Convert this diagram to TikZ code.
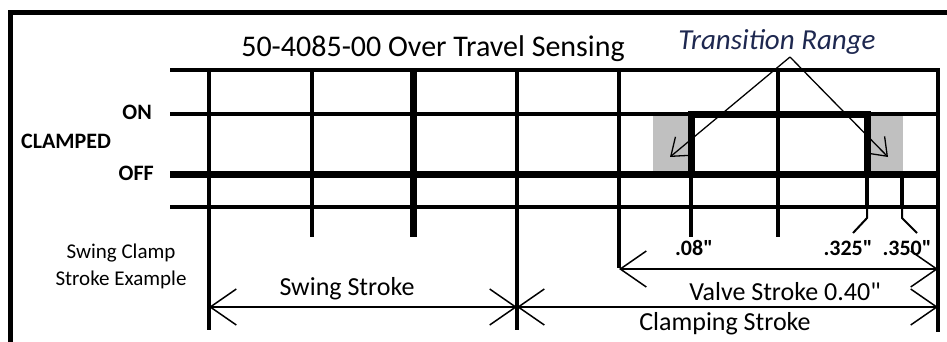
\documentclass[tikz,border=0pt]{standalone}
\usepackage{fontspec}
\setmainfont{Carlito}
\usetikzlibrary{arrows.meta}
\definecolor{navy}{RGB}{30,40,80}
\definecolor{rangegray}{RGB}{192,192,192}
\tikzset{grid/.style={line width=4.5pt},
 heavy/.style={line width=7pt,line join=miter},
 frame/.style={line width=5pt},
 lead/.style={line width=2pt},
 dim/.style={line width=1.5pt,{Straight Barb[length=26pt,width=36pt]}-{Straight Barb[length=26pt,width=36pt]}},
 pointer/.style={line width=1.3pt,-{Straight Barb[length=16pt,width=24pt]}},
 lbl/.style={font=\fontsize{26}{30}\selectfont,anchor=base,inner sep=0pt},
 tick/.style={font=\bfseries\fontsize{22}{26}\selectfont,anchor=base,inner sep=0pt},
 side/.style={font=\fontsize{21}{26}\selectfont,anchor=base,inner sep=0pt},
 }

\begin{document}
\begin{tikzpicture}[x=1pt,y=-1pt]
        \useasboundingbox (0,0) rectangle (947,341);
        \fill[rangegray] (653,116) rectangle (691,172);
        \fill[rangegray] (867,116) rectangle (903,172);
        \draw[frame] (10,350) -- (10,12) -- (955,12);
        \draw[grid] (170,70) -- (940,70);
        \draw[grid] (170,114) -- (940,114);
        \draw[heavy] (170,174) -- (940,174);
        \draw[grid] (170,207) -- (940,207);
        \draw[grid] (209,70) -- (209,330);
        \draw[grid] (312,70) -- (312,237);
        \draw[heavy] (413,70) -- (413,237);
        \draw[grid] (517,70) -- (517,330);
        \draw[grid] (619,70) -- (619,268);
        \draw[grid] (778,70) -- (778,237);
        \draw[grid] (938,68) -- (938,332);
        \draw[grid] (691,174) -- (691,237);
        \draw[grid] (867,174) -- (867,207);
        \draw[grid] (902,174) -- (902,207);
        \draw[heavy] (691,174) -- (691,114) -- (867,114) -- (867,174);
        \draw[lead] (867,205) -- (867,218) -- (853,233);
        \draw[lead] (902,205) -- (902,218) -- (917,233);
        \coordinate (apex) at (790,57);
        \coordinate (tranL) at (670,157);
        \coordinate (tranR) at (888,157);
        \draw[pointer] (apex) -- (tranL);
        \draw[pointer] (apex) -- (tranR);
        \coordinate (swingL) at (209,307);
        \coordinate (swingR) at (517,307);
        \coordinate (clampR) at (938,307);
        \coordinate (valveL) at (619,269);
        \coordinate (valveR) at (938,269);
        \draw[dim] (swingL) -- (swingR);
        \draw[dim] (swingR) -- (clampR);
        \draw[dim] (valveL) -- (valveR);
        \node[anchor=base,inner sep=0pt,font=\fontsize{30}{34}\selectfont] (title) at (433,56) {50-4085-00 Over Travel Sensing};
        \node[anchor=base,inner sep=0pt,navy,font=\itshape\fontsize{29}{33}\selectfont] (trange) at (777,49) {Transition Range};
        \node[tick,anchor=base east] (on) at (152,119) {ON};
        \node[tick,anchor=base east] (off) at (154,180) {OFF};
        \node[tick,anchor=base west] (clamped) at (21,148) {CLAMPED};
        \node[side] (example1) at (121,258) {Swing Clamp};
        \node[side] (example2) at (121,285) {Stroke Example};
        \node[lbl] (swing) at (347,295) {Swing Stroke};
        \node[lbl] (valve) at (785,300) {Valve Stroke 0.40\textquotedbl};
        \node[lbl] (clamping) at (725,330) {Clamping Stroke};
        \node[tick] (p08) at (694,255) {.08\textquotedbl};
        \node[tick] (p325) at (848,255) {.325\textquotedbl};
        \node[tick] (p350) at (907,255) {.350\textquotedbl};
    \end{tikzpicture}
\end{document}
